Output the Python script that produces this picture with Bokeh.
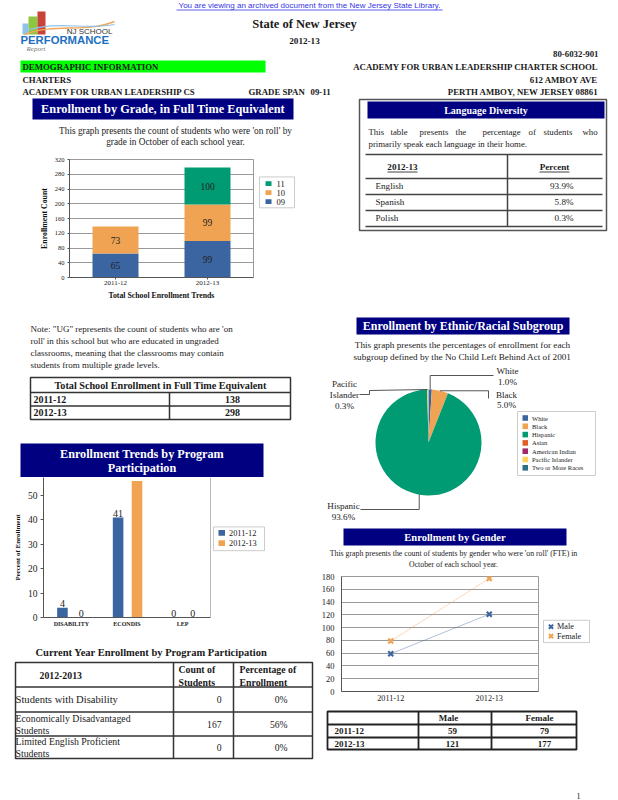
import math
from bokeh.plotting import figure
from bokeh.layouts import column, row
from bokeh.models import Range1d, FixedTicker, SingleIntervalTicker, Span, ColumnDataSource
from bokeh.core.properties import value
from bokeh.embed import file_html
from bokeh.resources import INLINE

# ---------------- data ----------------
years = ["2011-12", "2012-13"]
grade_names = ["09", "10", "11"]
grade_09 = [65, 99]
grade_10 = [73, 99]
grade_11 = [0, 100]
total_fte = [138, 298]

languages = ["English", "Spanish", "Polish"]
language_pct = [93.9, 5.8, 0.3]

ethnic_groups = ["White", "Black", "Hispanic", "Asian", "American Indian",
                 "Pacific Islander", "Two or More Races"]
ethnic_pct = [1.0, 5.0, 93.6, 0.0, 0.0, 0.3, 0.0]

programs = ["DISABILITY", "ECONDIS", "LEP"]
program_2011 = [4, 41, 0]
program_2012 = [0, 56, 0]

program_rows = [["Students with Disability"],
                ["Economically Disadvantaged", "Students"],
                ["Limited English Proficient", "Students"]]
program_count = [0, 167, 0]
program_share = [0, 56, 0]

gender_male = [59, 121]
gender_female = [79, 177]

# ---------------- style ----------------
SERIF = "Liberation Serif"
SANS = "Liberation Sans"
NAVY = "#000080"
BLUE = "#3b65a0"
ORANGE = "#f0a353"
GREEN = "#009a73"
ETHNIC_COLORS = ["#3b65a0", "#f0a353", "#009a73", "#e0602a", "#a2286a", "#ffd25c", "#2b6f8c"]
GRID = "#9a9a9a"
TXT = "#1a1a1a"


def canvas(x0, x1, y0, y1):
    p = figure(width=x1 - x0, height=y1 - y0,
               x_range=Range1d(x0, x1), y_range=Range1d(-y1, -y0),
               output_backend="svg", toolbar_location=None,
               x_axis_location=None, y_axis_location=None, min_border=0)
    p.grid.visible = False
    p.outline_line_color = None
    return p


def txt(p, x, y, s, size, bold=False, align="left", color=TXT, font=SERIF, style=None):
    st = style or ("bold" if bold else "normal")
    p.text(x=[x], y=[-y], text=[s], text_font=value(font), text_font_size=f"{size}px",
           text_font_style=st, text_align=align, text_baseline="middle", text_color=color)


def box(p, x0, x1, y0, y1, fill=None, line=None, lw=1.0):
    p.quad(left=[x0], right=[x1], top=[-y0], bottom=[-y1],
           fill_color=fill, line_color=line, line_width=lw)


def seg(p, x0, y0, x1, y1, color="#333333", lw=1.0):
    p.segment(x0=[x0], y0=[-y0], x1=[x1], y1=[-y1], line_color=color, line_width=lw)


def poly(p, pts, color="#555555", lw=1.0):
    p.line([q[0] for q in pts], [-q[1] for q in pts], line_color=color, line_width=lw)


def chart(w, h, xr, yr, left, right, top, bottom):
    p = figure(width=w, height=h, x_range=xr, y_range=yr,
               output_backend="svg", toolbar_location=None,
               min_border_left=left, min_border_right=right,
               min_border_top=top, min_border_bottom=bottom)
    p.axis.minor_tick_line_color = None
    p.axis.major_tick_in = 0
    p.axis.axis_line_color = "#555555"
    p.axis.major_tick_line_color = "#555555"
    p.axis.major_label_text_font = SERIF
    p.axis.major_label_text_color = "#222222"
    p.axis.axis_label_text_font = SERIF
    p.axis.axis_label_text_font_style = "bold"
    p.axis.axis_label_text_color = "#111111"
    p.xgrid.grid_line_color = None
    return p


# ---------------- header ----------------
hd = canvas(0, 618, 0, 97)
txt(hd, 309, 4.5, "You are viewing an archived document from the New Jersey State Library.",
    8, align="center", color="#3535e6", font=SANS)
seg(hd, 176, 9.5, 442, 9.5, color="#3535e6", lw=0.8)
# logo
box(hd, 22, 28, 23, 34, fill="#8fc3ea")
box(hd, 28, 37, 16, 34, fill="#8dc63f")
box(hd, 37, 45, 11, 34, fill="#c8433a")
hd.bezier(x0=[24], y0=[-34], x1=[114], y1=[-21], cx0=[55], cy0=[-22], cx1=[85], cy1=[-33],
          line_color="#f2a65a", line_width=1.4)
hd.bezier(x0=[24], y0=[-31], x1=[114], y1=[-24], cx0=[55], cy0=[-19], cx1=[85], cy1=[-30],
          line_color="#8fc3ea", line_width=1.2)
txt(hd, 112, 31, "NJ SCHOOL", 8, align="right", color="#333333", font=SANS)
txt(hd, 20, 39.5, "PERFORMANCE", 11.3, bold=True, color="#1e6fc1", font=SANS)
txt(hd, 26, 48, "Report", 7, color="#777777", style="italic")

txt(hd, 304, 23, "State of New Jersey", 12.5, bold=True, align="center")
txt(hd, 304, 40.5, "2012-13", 9.2, bold=True, align="center")
txt(hd, 598, 53.5, "80-6032-901", 8.8, bold=True, align="right")
box(hd, 20, 265, 60, 72, fill="#00ff00")
txt(hd, 22, 66, "DEMOGRAPHIC INFORMATION", 8.8, bold=True)
txt(hd, 598, 66, "ACADEMY FOR URBAN LEADERSHIP CHARTER SCHOOL", 8.8, bold=True, align="right")
txt(hd, 22, 79, "CHARTERS", 8.8, bold=True)
txt(hd, 598, 79, "612 AMBOY AVE", 8.8, bold=True, align="right")
txt(hd, 22, 91, "ACADEMY FOR URBAN LEADERSHIP CS", 8.8, bold=True)
txt(hd, 248, 91, "GRADE SPAN", 8.8, bold=True)
txt(hd, 310, 91, "09-11", 8.8, bold=True)
txt(hd, 598, 91, "PERTH AMBOY, NEW JERSEY 08861", 8.8, bold=True, align="right")

# ---------------- left column ----------------
l1 = canvas(0, 318, 97, 153)
box(l1, 32, 293, 98, 119, fill=NAVY)
txt(l1, 162.5, 108.5, "Enrollment by Grade, in Full Time Equivalent", 12.3, bold=True,
    align="center", color="white")
txt(l1, 175, 130, "This graph presents the count of students who were 'on roll' by", 9.3,
    align="center", color="#222222")
txt(l1, 175, 141.5, "grade in October of each school year.", 9.3, align="center", color="#222222")

# grade chart
xg = list(range(len(years)))
gsrc = ColumnDataSource(dict(x=xg, g09=grade_09, g10=grade_10, g11=grade_11))
pg = chart(256, 149, Range1d(-0.5, len(years) - 0.5), Range1d(0, 320), 69, 3, 6, 24)
pg.vbar_stack(["g09", "g10", "g11"], x="x", width=0.5, color=[BLUE, ORANGE, GREEN],
              line_color=None, source=gsrc)
lx, ly, lt = [], [], []
for i in xg:
    base = 0
    for series in (grade_09, grade_10, grade_11):
        v = series[i]
        if v > 0:
            lx.append(i)
            ly.append(base + v / 2)
            lt.append(str(v))
        base += v
pg.text(x=lx, y=ly, text=lt, text_font=value(SERIF), text_font_size="9.5px",
        text_align="center", text_baseline="middle", text_color="#222222")
pg.xaxis.ticker = FixedTicker(ticks=xg)
pg.xaxis.major_label_overrides = {i: y for i, y in enumerate(years)}
pg.yaxis.ticker = SingleIntervalTicker(interval=40)
pg.yaxis.major_label_text_font_size = "6.5px"
pg.xaxis.major_label_text_font_size = "7px"
pg.axis.major_tick_out = 2
pg.axis.major_label_standoff = 1
pg.yaxis.axis_label = "Enrollment Count"
pg.xaxis.axis_label = "Total School Enrollment Trends"
pg.axis.axis_label_text_font_size = "7.8px"
pg.axis.axis_label_standoff = 3
pg.ygrid.grid_line_color = GRID
pg.outline_line_color = GRID

lg = canvas(256, 318, 153, 302)
box(lg, 259, 294, 175, 214, fill="white", line="#cccccc")
grade_colors = [BLUE, ORANGE, GREEN]
for k, gi in enumerate(reversed(range(len(grade_names)))):
    yy = 183.5 + 11.3 * k
    box(lg, 265, 271, yy - 3, yy + 3, fill=grade_colors[gi])
    txt(lg, 276, yy, grade_names[gi], 8.5)

# note + total table
l3 = canvas(0, 318, 302, 432)
note = ["Note: \"UG\" represents the count of students who are 'on",
        "roll' in this school but who are educated in ungraded",
        "classrooms, meaning that the classrooms may contain",
        "students from multiple grade levels."]
for k, s in enumerate(note):
    txt(l3, 30, 328.5 + 12 * k, s, 9, color="#222222")
box(l3, 30, 290, 377, 419, fill=None, line="#333333", lw=1.5)
seg(l3, 30, 392, 290, 392, lw=1.5)
seg(l3, 30, 405.5, 290, 405.5, lw=1.5)
seg(l3, 169, 392, 169, 419, lw=1.5)
txt(l3, 160, 384.5, "Total School Enrollment in Full Time Equivalent", 10.2, bold=True, align="center")
for i, yr in enumerate(years):
    yy = 399 + 13.3 * i
    txt(l3, 33, yy, yr, 10, bold=True)
    txt(l3, 232, yy, str(total_fte[i]), 10, bold=True, align="center")

# program banner
l4 = canvas(0, 318, 432, 477)
box(l4, 20, 263, 443, 477, fill=NAVY)
txt(l4, 141.5, 453.5, "Enrollment Trends by Program", 12.2, bold=True, align="center", color="white")
txt(l4, 141.5, 467.5, "Participation", 12.2, bold=True, align="center", color="white")

# program chart
xp = list(range(len(programs)))
YTOP = 57.4
pp = chart(212, 153, Range1d(-0.5, len(programs) - 0.5), Range1d(0, YTOP), 43, 2, 0, 13)
off1, off2, bw = -0.16, 0.18, 0.19
x1 = [i + off1 for i in xp]
x2 = [i + off2 for i in xp]
pp.vbar(x=x1, top=program_2011, width=bw, color=BLUE, line_color=None)
pp.vbar(x=x2, top=program_2012, width=bw, color=ORANGE, line_color=None)
vx, vy, vt = [], [], []
for xs, vals in ((x1, program_2011), (x2, program_2012)):
    for xv, v in zip(xs, vals):
        if v < YTOP - 5:
            vx.append(xv)
            vy.append(v)
            vt.append(str(v))
pp.text(x=vx, y=vy, text=vt, y_offset=-1, text_font=value(SERIF), text_font_size="10px",
        text_align="center", text_baseline="bottom", text_color="#222222")
pp.xaxis.ticker = FixedTicker(ticks=xp)
pp.xaxis.major_label_overrides = {i: s for i, s in enumerate(programs)}
pp.xaxis.major_label_text_font_style = "bold"
pp.xaxis.major_label_text_font_size = "6px"
pp.xaxis.major_tick_out = 0
pp.xaxis.major_label_standoff = 3
pp.yaxis.ticker = SingleIntervalTicker(interval=10)
pp.yaxis.major_label_text_font_size = "9.5px"
pp.yaxis.major_tick_out = 3
pp.yaxis.major_label_standoff = 2
pp.yaxis.axis_label = "Percent of Enrollment"
pp.yaxis.axis_label_text_font_size = "7px"
pp.yaxis.axis_label_standoff = 3
pp.ygrid.grid_line_color = None
pp.outline_line_color = None
pp.add_layout(Span(location=len(programs) - 0.5, dimension="height", line_color="#777777", line_width=1))

lp = canvas(212, 318, 477, 630)
box(lp, 213, 264, 531, 557, fill="white", line="#cccccc")
for k, (yr, col) in enumerate(zip(years, [BLUE, ORANGE])):
    yy = 537.5 + 11.2 * k
    box(lp, 218, 224.5, yy - 3.2, yy + 3.2, fill=col)
    txt(lp, 228.5, yy, yr, 8.3)

# current year table
l6 = canvas(0, 318, 630, 800)
txt(l6, 35, 652, "Current Year Enrollment by Program Participation", 10.5, bold=True)
row_edges = [662, 686.5, 711.5, 735.5, 758]
box(l6, 15, 312, 662, 758, fill=None, line="#333333", lw=1.5)
for ye in row_edges[1:-1]:
    seg(l6, 15, ye, 312, ye, lw=1.5)
seg(l6, 173, 662, 173, 758, lw=1.5)
seg(l6, 233, 662, 233, 758, lw=1.5)
txt(l6, 39, 675, "2012-2013", 9.8, bold=True)
txt(l6, 178, 669, "Count of", 9.8, bold=True)
txt(l6, 178, 682, "Students", 9.8, bold=True)
txt(l6, 239, 669, "Percentage of", 9.8, bold=True)
txt(l6, 239, 682, "Enrollment", 9.8, bold=True)
for i, lines in enumerate(program_rows):
    top, bot = row_edges[i + 1], row_edges[i + 2]
    mid = (top + bot) / 2
    if len(lines) == 1:
        txt(l6, 15, mid, lines[0], 10.6)
    else:
        for k, s in enumerate(lines):
            txt(l6, 15, mid - 6 + 12 * k, s, 9.8)
    txt(l6, 221, mid, str(program_count[i]), 9.6, align="right")
    txt(l6, 287, mid, f"{program_share[i]}%", 9.6, align="right")

left_col = column(l1, row(pg, lg), l3, l4, row(pp, lp), l6)

# ---------------- right column ----------------
r1 = canvas(318, 618, 97, 571)
# language diversity
box(r1, 359, 606, 99, 230, fill=None, line="#555555", lw=1.5)
box(r1, 367, 604, 101, 118, fill=NAVY)
txt(r1, 485.5, 109.5, "Language Diversity", 10, bold=True, align="center", color="white")
words = [("This", 368), ("table", 390), ("presents", 419), ("the", 455),
         ("percentage", 482), ("of", 528), ("students", 543), ("who", 582)]
for w, wx in words:
    txt(r1, wx, 131, w, 8.8, color="#222222")
txt(r1, 368, 143, "primarily speak each language in their home.", 8.8, color="#222222")
for ye in [154, 178, 194, 210, 226]:
    seg(r1, 365, ye, 602, ye, color="#444444", lw=1.5)
seg(r1, 507, 154, 507, 226, color="#444444", lw=1.5)
txt(r1, 402, 166, "2012-13", 9.1, bold=True, align="center")
seg(r1, 387, 171.5, 417, 171.5, color="#111111", lw=0.8)
txt(r1, 554, 166, "Percent", 9.1, bold=True, align="center")
seg(r1, 539, 171.5, 569, 171.5, color="#111111", lw=0.8)
for i, lang in enumerate(languages):
    yy = 185.5 + 16 * i
    txt(r1, 375, yy, lang, 9.1)
    txt(r1, 573, yy, f"{language_pct[i]:.1f}%", 9.1, align="right")

# ethnic pie
box(r1, 356, 569, 317, 334, fill=NAVY)
txt(r1, 462.5, 325.5, "Enrollment by Ethnic/Racial Subgroup", 12, bold=True, align="center", color="white")
txt(r1, 462, 344, "This graph presents the percentages of enrollment for each", 9.2,
    align="center", color="#222222")
txt(r1, 462, 356, "subgroup defined by the No Child Left Behind Act of 2001", 9.2,
    align="center", color="#222222")
CX, CY, R = 428, 442, 53
starts, ends, cols, mids = [], [], [], {}
cum = 0.0
for name, pct, col in zip(ethnic_groups, ethnic_pct, ETHNIC_COLORS):
    a_end = math.pi / 2 - 2 * math.pi * cum / 100
    a_start = math.pi / 2 - 2 * math.pi * (cum + pct) / 100
    if pct > 0:
        starts.append(a_start)
        ends.append(a_end)
        cols.append(col)
        am = (a_start + a_end) / 2
        mids[name] = (CX + R * math.cos(am), CY - R * math.sin(am))
    cum += pct
r1.wedge(x=[CX] * len(starts), y=[-CY] * len(starts), radius=R, start_angle=starts,
         end_angle=ends, direction="anticlock", fill_color=cols, line_color=None)

label_layout = {
    "White": (507, [370, 381], lambda m: [m, (m[0], 375), (493, 375)]),
    "Black": (506, [394, 404.5], lambda m: [m, (488, m[1]), (488, 398)]),
    "Hispanic": (343, [505, 516], lambda m: [m, (m[0], 509), (360, 509)]),
    "Pacific Islander": (344, [383, 394, 405], lambda m: [m, (369, 390), (369, 394), (359, 394)]),
}
for name, pct in zip(ethnic_groups, ethnic_pct):
    if pct <= 0 or name not in label_layout:
        continue
    lxp, lys, path = label_layout[name]
    parts = name.split(" ") if len(lys) == 3 else [name]
    parts = parts + [f"{pct:.1f}%"]
    for s, yy in zip(parts, lys):
        txt(r1, lxp, yy, s, 9.1, align="center", color="#222222")
    poly(r1, path(mids[name]), color="#555555", lw=1)

box(r1, 517, 595, 411, 475, fill="white", line="#cccccc")
for k, (name, col) in enumerate(zip(ethnic_groups, ETHNIC_COLORS)):
    yy = 417.5 + 8.3 * k
    box(r1, 522, 527.5, yy - 2.8, yy + 2.8, fill=col)
    txt(r1, 531.5, yy, name, 6.5, color="#222222")

# gender header
box(r1, 343, 566, 528, 545, fill=NAVY)
txt(r1, 454.5, 536.5, "Enrollment by Gender", 10.5, bold=True, align="center", color="white")
txt(r1, 453, 553, "This graph presents the count of students by gender who were 'on roll' (FTE) in",
    7.8, align="center", color="#222222")
txt(r1, 453, 563.5, "October of each school year.", 7.8, align="center", color="#222222")

# gender chart
pgd = chart(222, 134, Range1d(-0.5, len(years) - 0.5), Range1d(0, 180), 18, 2, 5, 14)
pgd.line(xg, gender_male, line_color=BLUE, line_alpha=0.4, line_width=1)
pgd.line(xg, gender_female, line_color=ORANGE, line_alpha=0.4, line_width=1)
pgd.scatter(xg, gender_male, marker="x", size=7, line_width=2.2, line_color=BLUE)
pgd.scatter(xg, gender_female, marker="x", size=7, line_width=2.2, line_color=ORANGE)
pgd.xaxis.ticker = FixedTicker(ticks=xg)
pgd.xaxis.major_label_overrides = {i: y for i, y in enumerate(years)}
pgd.yaxis.ticker = SingleIntervalTicker(interval=20)
pgd.yaxis.major_label_text_font_size = "8.5px"
pgd.xaxis.major_label_text_font_size = "8.2px"
pgd.axis.major_tick_out = 0
pgd.axis.major_label_standoff = 3
pgd.ygrid.grid_line_color = GRID
pgd.outline_line_color = GRID

lgd = canvas(540, 618, 571, 705)
box(lgd, 543, 589, 622, 648, fill="white", line="#cccccc")
for k, (nm, col) in enumerate(zip(["Male", "Female"], [BLUE, ORANGE])):
    yy = 629.5 + 11 * k
    lgd.scatter([550.5], [-yy], marker="x", size=6, line_width=2, line_color=col)
    txt(lgd, 556.5, yy, nm, 8.2)

# gender table
r3 = canvas(318, 618, 705, 800)
box(r3, 327, 576, 711, 749, fill=None, line="#222222", lw=1.8)
seg(r3, 327, 724, 576, 724, color="#222222", lw=1.8)
seg(r3, 327, 737, 576, 737, color="#222222", lw=1.8)
seg(r3, 418, 711, 418, 749, color="#222222", lw=1.8)
seg(r3, 491, 711, 491, 749, color="#222222", lw=1.8)
txt(r3, 448, 717.5, "Male", 9, bold=True, align="center")
txt(r3, 539, 717.5, "Female", 9, bold=True, align="center")
for i, yr in enumerate(years):
    yy = 730.5 + 12.7 * i
    txt(r3, 334, yy, yr, 9, bold=True)
    txt(r3, 452, yy, str(gender_male[i]), 9, bold=True, align="center")
    txt(r3, 544, yy, str(gender_female[i]), 9, bold=True, align="center")
txt(r3, 578, 795, "1", 8, align="center")

right_col = column(r1, row(pgd, lgd), r3)

page = column(hd, row(left_col, right_col))

open("out.html", "w").write(file_html(page, INLINE))
